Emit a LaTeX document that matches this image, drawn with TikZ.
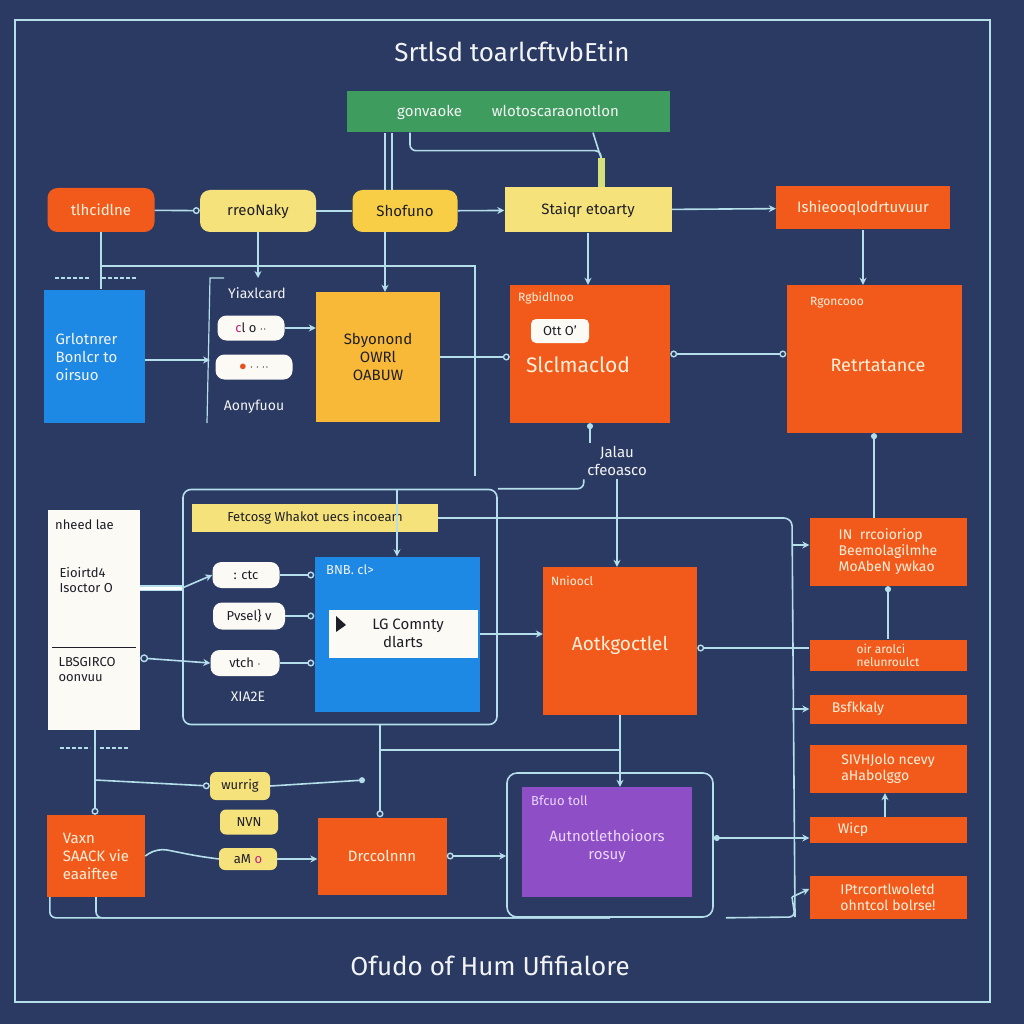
\documentclass[tikz,border=0pt]{standalone}
\usepackage{fontspec}
\setmainfont{Fira Sans}
\usetikzlibrary{arrows.meta,calc,positioning}

\begin{document}
\begin{tikzpicture}[x=1pt,y=-1pt,>={Stealth[length=7pt,width=7pt]},
    font=\fontsize{15}{18}\selectfont,
    blk/.style={rectangle,align=center,inner sep=3pt},
    pill/.style={rectangle,rounded corners=9pt,fill=PillWhite,text=InkDark,
      inner sep=2pt,font=\fontsize{13}{15}\selectfont},
    tagtext/.style={anchor=north west,inner sep=0pt,font=\fontsize{12}{14}\selectfont},
    wire/.style={line width=1.6pt,WireBlue},
    ringend/.style={-{Circle[open,length=7pt,line width=1.4pt]}},
  ]
  %--- Theme colors ---
  \definecolor{BGCanvas}{HTML}{2B3A62}   % page background
  \definecolor{WireBlue}{HTML}{B4DEEA}   % connectors and frames
  \definecolor{TextSoft}{HTML}{F2F3F4}   % off-white text
  \definecolor{TextCream}{HTML}{FFF0DA}  % text on orange
  \definecolor{InkDark}{HTML}{1E1E28}    % text on light fills
  \definecolor{BoxOrange}{HTML}{F25A1C}
  \definecolor{BoxGreen}{HTML}{3E9C5E}
  \definecolor{BoxBlue}{HTML}{1E88E5}
  \definecolor{BoxPurple}{HTML}{8E4EC6}
  \definecolor{PaleYellow}{HTML}{F6E27A}
  \definecolor{GoldYellow}{HTML}{F7CE46}
  \definecolor{Amber}{HTML}{F8B838}
  \definecolor{PillWhite}{HTML}{FBFAF5}
  \definecolor{StemYellow}{HTML}{D6E07A}
  \definecolor{PinkMark}{HTML}{C0207A}
  \definecolor{DotOrange}{HTML}{E8501E}
  \definecolor{Lavender}{HTML}{EBD6FF}

  %--- Canvas and outer frame ---
  \fill[BGCanvas] (0,0) rectangle (1024,1024);
  \useasboundingbox (0,0) rectangle (1024,1024);
  \draw[wire,line width=1.3pt] (15,20) rectangle (990,1002);

  %--- Titles ---
  \node[text=TextSoft,font=\fontsize{26}{30}\selectfont] (title) at (512,52) {Srtlsd toarlcftvbEtin};
  \node[text=TextSoft,font=\fontsize{26}{30}\selectfont] (foot) at (490,966) {Ofudo of Hum Ufifialore};

  %--- Top row ---
  \node[blk,fill=BoxGreen,text=TextSoft,minimum width=323,minimum height=41] (gr) at (508,112)
    {gonvaoke\hspace{30pt}wlotoscaraonotlon};
  \node[blk,rounded corners=10pt,fill=BoxOrange,text=TextCream,minimum width=107,minimum height=44] (hd) at (101,210) {tlhcidlne};
  \node[blk,rounded corners=10pt,fill=PaleYellow,text=InkDark,minimum width=116,minimum height=42] (ry) at (258,211) {rreoNaky};
  \node[blk,rounded corners=10pt,fill=GoldYellow,text=InkDark,minimum width=105,minimum height=42] (sh) at (405,211) {Shofuno};
  \node[blk,fill=PaleYellow,text=InkDark,minimum width=167,minimum height=45] (st) at (588,210) {Staiqr etoarty};
  \node[blk,fill=BoxOrange,text=TextCream,minimum width=174,minimum height=43] (is) at (863,208) {Ishieooqlodrtuvuur};

  %--- Second row ---
  \node[blk,fill=BoxBlue,minimum width=101,minimum height=133] (bl) at (94,356) {};
  \node[text=TextSoft,align=left,anchor=west] (bl-txt) at (52,357) {Grlotnrer\\Bonlcr to\\oirsuo};
  \coordinate (brk-top) at (210,278);
  \coordinate (brk-bot) at (207,423);
  \node[text=TextSoft,font=\fontsize{14}{16}\selectfont] (ylab) at (257,293) {Yiaxlcard};
  \node[pill,minimum width=67,minimum height=25] (p1) at (251,328) {{\color{PinkMark}c}l o $\cdot\cdot$};
  \node[pill,minimum width=77,minimum height=25] (p2) at (254,367) {{\color{DotOrange}\Large$\bullet$} $\cdot\cdot\cdot\cdot$};
  \node[text=TextSoft,font=\fontsize{14}{16}\selectfont] (alab) at (254,407) {Aonyfuou};
  \node[blk,fill=Amber,text=InkDark,minimum width=124,minimum height=130] (yo) at (378,357) {Sbyonond\\OWRl\\OABUW};
  \node[blk,fill=BoxOrange,minimum width=160,minimum height=138] (sl) at (590,354) {};
  \node[tagtext,text=TextCream] (sl-tag) at (518,292) {Rgbidlnoo};
  \node[pill,rounded corners=5pt,minimum width=58,minimum height=24] (sl-pill) at (560,331) {Ott O'};
  \node[text=TextCream,font=\fontsize{21}{24}\selectfont] (sl-txt) at (578,365) {Slclmaclod};
  \node[blk,fill=BoxOrange,minimum width=175,minimum height=148] (re) at (874,359) {};
  \node[tagtext,text=TextCream] (re-tag) at (810,297) {Rgoncooo};
  \node[text=TextCream,font=\fontsize{18}{22}\selectfont] (re-txt) at (878,365) {Retrtatance};
  \node[text=TextSoft,align=center] (lbl) at (617,461) {Jalau\\cfeoasco};

  %--- Third row ---
  \node[blk,fill=PillWhite,minimum width=92,minimum height=220] (wh) at (94,620) {};
  \draw[InkDark,line width=1.2pt] ($(wh.north west)+(4,138)$) -- ($(wh.north east)+(-4,138)$);
  \node[tagtext,text=InkDark,font=\fontsize{13}{15}\selectfont] (wh-tag) at (55,520) {nheed lae};
  \node[text=InkDark,align=left,anchor=west,font=\fontsize{13}{15}\selectfont] (wh-a) at (56,580) {Eioirtd4\\Isoctor O};
  \node[text=InkDark,align=left,anchor=west,font=\fontsize{13}{15}\selectfont] (wh-b) at (55,670) {LBSGIRCO\\oonvuu};
  \node[draw=WireBlue,line width=1.6pt,rounded corners=8pt,minimum width=314,minimum height=235] (inner) at (340,607) {};
  \node[blk,fill=PaleYellow,text=InkDark,minimum width=246,minimum height=28,font=\fontsize{13}{15}\selectfont] (banner) at (315,518)
    {Fetcosg Whakot uecs incoeam};
  \node[pill,minimum width=67,minimum height=26] (q1) at (246,575) {: ctc};
  \node[pill,minimum width=72,minimum height=27] (q2) at (249,616) {Pvsel\} v};
  \node[pill,minimum width=69,minimum height=26] (q3) at (245,663) {vtch $\cdot$};
  \node[text=TextSoft,font=\fontsize{14}{16}\selectfont] (xlab) at (248,697) {XIA2E};
  \node[blk,fill=BoxBlue,minimum width=165,minimum height=155] (lg) at (397,634) {};
  \node[tagtext,text=TextSoft,font=\fontsize{13}{15}\selectfont] (lg-tag) at (326,565) {BNB. cl>};
  \node[blk,fill=PillWhite,text=InkDark,minimum width=149,minimum height=48,anchor=north east,align=center] (lg-strip)
    at ($(lg.north east)+(-2,53)$) {\hspace{10pt}LG Comnty\\dlarts};
  \fill[InkDark] (336,616) -- (336,632) -- (346,625) -- cycle;
  \node[blk,fill=BoxOrange,minimum width=154,minimum height=148] (ak) at (620,641) {};
  \node[tagtext,text=TextCream] (ak-tag) at (551,576) {Nnioocl};
  \node[text=TextCream,font=\fontsize{19}{22}\selectfont] (ak-txt) at (620,645) {Aotkgoctlel};

  %--- Right column ---
  \node[blk,fill=BoxOrange,text=TextCream,minimum width=157,minimum height=68,align=left,font=\fontsize{14}{16}\selectfont] (r1) at (888,552)
    {IN\ \ rrcoioriop\\Beemolagilmhe\\MoAbeN ywkao};
  \node[blk,fill=BoxOrange,text=TextCream,minimum width=157,minimum height=31,align=left,font=\fontsize{12}{13}\selectfont] (r2) at (888,655)
    {oir arolci\\nelunroulct};
  \node[blk,fill=BoxOrange,text=TextCream,minimum width=157,minimum height=29,align=left,font=\fontsize{14}{16}\selectfont] (r3) at (888,709)
    {Bsfkkaly\hspace{60pt}};
  \node[blk,fill=BoxOrange,text=TextCream,minimum width=157,minimum height=48,align=left,font=\fontsize{14}{16}\selectfont] (r4) at (888,769)
    {SIVHJolo ncevy\\aHabolggo};
  \node[blk,fill=BoxOrange,text=TextCream,minimum width=157,minimum height=26,font=\fontsize{14}{16}\selectfont] (r5) at (888,830)
    {Wicp\hspace{70pt}};
  \node[blk,fill=BoxOrange,text=TextCream,minimum width=157,minimum height=43,align=left,font=\fontsize{14}{16}\selectfont] (r6) at (888,897)
    {IPtrcortlwoletd\\ohntcol bolrse!};

  %--- Bottom row ---
  \node[blk,fill=BoxOrange,text=TextCream,minimum width=98,minimum height=82,align=left] (vx) at (96,856)
    {Vaxn\\SAACK vie\\eaaiftee};
  \node[pill,fill=PaleYellow,rounded corners=6pt,minimum width=60,minimum height=28] (w1) at (240,786) {wurrig};
  \node[pill,fill=PaleYellow,rounded corners=6pt,minimum width=58,minimum height=25] (w2) at (249,822) {NVN};
  \node[pill,fill=PaleYellow,rounded corners=6pt,minimum width=58,minimum height=22] (w3) at (248,859) {aM {\color{PinkMark}o}};
  \node[blk,fill=BoxOrange,text=TextCream,minimum width=129,minimum height=77] (dr) at (382,856) {Drccolnnn};
  \node[draw=WireBlue,line width=1.6pt,rounded corners=10pt,minimum width=206,minimum height=144] (pfr) at (610,845) {};
  \node[blk,fill=BoxPurple,minimum width=170,minimum height=110] (pu) at (607,842) {};
  \node[tagtext,text=Lavender,font=\fontsize{13}{15}\selectfont] (pu-tag) at (531,796) {Bfcuo toll};
  \node[text=Lavender,align=center] (pu-txt) at (607,846) {Autnotlethoioors\\rosuy};

  %--- Tap points ---
  \coordinate (sh-out) at ($(sh.south)+(-20,0)$);
  \coordinate (bl-out) at ($(bl.east)+(0,4)$);
  \coordinate (wh-out1) at ($(wh.east)+(0,-32)$);
  \coordinate (wh-out2) at ($(wh.east)+(0,38)$);
  \coordinate (ak-out) at ($(ak.east)+(0,7)$);
  \coordinate (pfr-out) at ($(pfr.east)+(0,-7)$);
  \coordinate (gr-tap) at (601,158);

  %--- Connectors: top row ---
  \draw[wire,ringend] (hd) -- (ry);
  \draw[wire] (ry) -- (sh);
  \draw[wire,->] (sh) -- (st);
  \draw[wire,->] (st) -- (is);
  \draw[wire] ($(sh.north)+(-20,0)$) -- ($(gr.south)+(-123,0)$);
  \draw[wire] ($(sh.north)+(-13,0)$) -- ($(gr.south)+(-116,0)$);
  \draw[wire,rounded corners=6pt] ($(gr.south)+(-98,0)$) -- ++(0,18) -| (gr-tap);
  \draw[wire] ($(gr.south)+(85,0)$) -- (gr-tap);
  \draw[line width=7pt,StemYellow] (gr-tap) -- (gr-tap |- st.north);

  %--- Connectors: second row ---
  \draw[wire] (hd.south) -- (hd.south |- bl.north);
  \draw[wire,line width=2pt,dash pattern=on 4pt off 2pt] (55,278) -- (90,278) (102,278) -- (136,278);
  \draw[wire,->] (ry.south) -- (ry.south |- brk-top);
  \draw[wire,line width=1.2pt] ($(brk-top)+(14,0)$) -- (brk-top) -- (brk-bot);
  \draw[wire,->] (sh-out) -- (sh-out |- yo.north);
  \draw[wire,->] (st.south) -- (st.south |- sl.north);
  \draw[wire,->] (is.south) -- (is.south |- re.north);
  \coordinate (bus-a) at (100,266);
  \coordinate (bus-b) at (475,266);
  \coordinate (bus-c) at (475,476);
  \draw[wire] (bus-a) -- (bus-b) -- (bus-c);
  \draw[wire,->] (bl-out) -- (bl-out -| brk-top);
  \draw[wire,->] (p1.east) -- (p1.east -| yo.west);
  \draw[wire,ringend] (yo.east) -- (yo.east -| sl.west);
  \draw[wire,{Circle[open,length=7pt,line width=1.4pt]}-{Circle[open,length=7pt,line width=1.4pt]}] (sl.east) -- (sl.east -| re.west);
  \draw[wire,{Circle[length=6pt]}-] (sl.south) -- (sl.south |- lbl.north);

  %--- Connectors: third row ---
  \draw[wire,->] (lbl.south) -- (lbl.south |- ak.north);
  \draw[wire,rounded corners=6pt] (inner.north east) -| (lbl.south west);
  \draw[wire,->] (lg.north |- inner.north) -- (lg.north);
  \coordinate (rb-top) at (792,518);
  \coordinate (rb-bot) at (795,917);
  \draw[wire,rounded corners=8pt] (banner.east) -- (rb-top) -- (rb-bot);
  \draw[wire,->] (rb-top |- 0,545) -- (r1.west |- 0,545);
  \draw[wire,{Circle[length=6pt]}-] (re.south) -- (re.south |- r1.north);
  \draw[wire,{Circle[length=6pt]}-] (r1.south) -- (r1.south |- r2.north);
  \draw[wire,{Circle[open,length=7pt,line width=1.4pt]}-] (ak-out) -- (ak-out -| r2.west);
  \draw[wire,->] (rb-top |- r3.west) -- (r3.west);
  \draw[wire,->] (rb-top |- r6.west) -- ([yshift=8pt]r6.west);
  \draw[wire,->] (lg.east) -- (lg.east -| ak.west);
  \draw[wire,double,double distance=3pt] (wh-out1) -- (wh-out1 -| inner.west);
  \draw[wire,->] (wh-out1 -| inner.west) -- (q1.west);
  \draw[wire,{Circle[open,length=8pt,line width=1.4pt]}->] (wh-out2) -- (q3.west);
  \draw[wire,ringend] (q1.east) -- (q1.east -| lg.west);
  \draw[wire,ringend] (q2.east) -- (q2.east -| lg.west);
  \draw[wire,ringend] (q3.east) -- (q3.east -| lg.west);
  \draw[wire,->] (ak.south) -- (ak.south |- pu.north);

  %--- Connectors: bottom row ---
  \draw[wire,line width=2pt,dash pattern=on 4pt off 2pt] (60,748) -- (90,748) (100,748) -- (128,748);
  \draw[wire,{Circle[open,length=7pt,line width=1.4pt]}-] (vx.north -| 95,0) -- (95,730);
  \coordinate (lg-drop) at (380,725);
  \draw[wire] (lg-drop |- 0,750) -- (ak.south |- 0,750);
  \draw[wire,ringend] (95,780) -- (w1.west);
  \draw[wire,-{Circle[length=6pt]}] (w1.east) -- (365,780);
  \draw[wire,{Circle[open,length=7pt,line width=1.4pt]}-] (lg-drop |- dr.north) -- (lg-drop);
  \draw[wire,rounded corners=10pt] (vx.east) -- ++(12,-8) -- ++(40,8) -- (w3.west);
  \draw[wire,->] (w3.east) -- (w3.east -| dr.west);
  \draw[wire,{Circle[open,length=7pt,line width=1.4pt]}->] (dr.east) -- (dr.east -| pfr.west);
  \draw[wire,{Circle[length=6pt]}->] (pfr-out) -- (pfr-out -| r5.west);
  \draw[wire,->] ($(r5.north)+(-3,0)$) -- ($(r4.south)+(-3,0)$);
  \draw[wire,rounded corners=6pt] ($(vx.south west)+(3,0)$) |- (pfr.south);
  \draw[wire,rounded corners=6pt] (vx.south) |- (pfr.south);
  \draw[wire,rounded corners=6pt] ($(pfr.south east)+(12,0)$) -- (rb-bot) -- (rb-top |- r6.west);
\end{tikzpicture}
\end{document}
